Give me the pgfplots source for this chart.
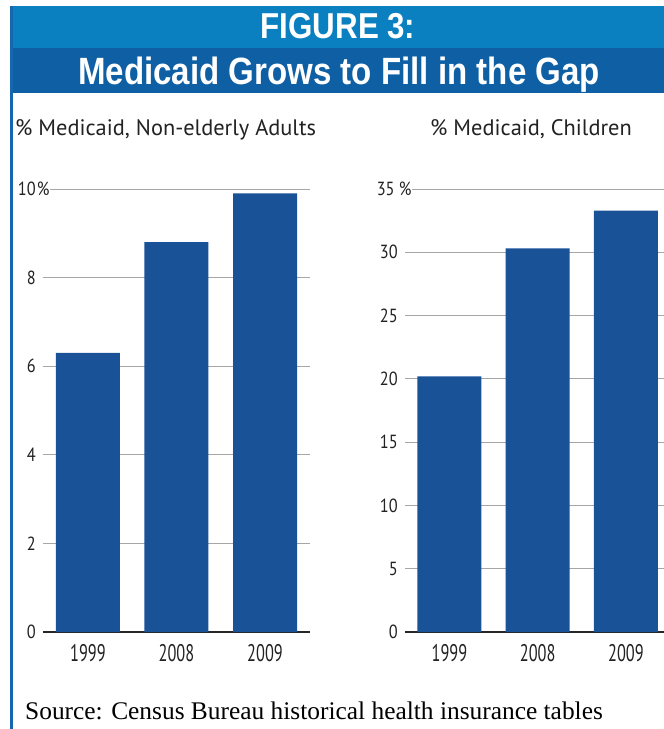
\documentclass[border=0pt]{standalone}
\usepackage{pgfplots}
\pgfplotsset{compat=1.18}
\usepackage{fontspec}
\setmainfont{PT Sans}
\newfontfamily\headfont[FakeStretch=0.87]{Liberation Sans}
\newfontfamily\condfont[FakeStretch=0.86]{PT Sans}
\newfontfamily\xcondfont[FakeStretch=0.68]{PT Sans}
\newfontfamily\srcfont{Liberation Serif}
\definecolor{barblue}{HTML}{1A5297}
\definecolor{hdrlight}{HTML}{0B80C0}
\definecolor{hdrdark}{HTML}{0E5FA3}
\definecolor{edgeblue}{HTML}{1666B0}
\definecolor{txt}{HTML}{222222}
\newcommand{\pct}{\rlap{\setlength{\fboxsep}{1pt}\colorbox{white}{\%}}}
\pgfplotsset{
  mybars/.style={
    scale only axis, anchor=south west,
    height=443pt, ymin=0,
    ybar, bar width=64pt, bar shift=0pt,
    axis line style={draw=none},
    major tick length=0pt,
    xtick={0,1,2}, xticklabels={1999,2008,2009},
    ymajorgrids, grid style={draw=black!35, line width=0.9pt},
    extra y ticks={0}, extra y tick labels={0},
    extra y tick style={grid style={draw=black!85, line width=1.4pt}},
    yticklabel style={font=\condfont\fontsize{19}{21}\selectfont, text=txt, anchor=east, inner sep=0pt, xshift=-7pt},
    xticklabel style={font=\xcondfont\fontsize{24}{26}\selectfont, text=txt, anchor=north, inner sep=0pt, yshift=-12pt},
  }
}
\begin{document}
\begin{tikzpicture}[x=1pt,y=1pt]
\useasboundingbox (0pt,0pt) rectangle (664pt,-729pt);
\clip (0pt,0pt) rectangle (664pt,-729pt);
\fill[white] (0pt,0pt) rectangle (664pt,-729pt);
\fill[hdrlight] (10pt,-6pt) rectangle (664pt,-48pt);
\fill[hdrdark] (10pt,-48pt) rectangle (664pt,-93pt);
\fill[edgeblue] (10pt,-6pt) rectangle (12.5pt,-729pt);
\node[anchor=base, text=white, inner sep=0pt, font=\headfont\bfseries\fontsize{36}{40}\selectfont] at (338pt,-38pt) {FIGURE 3:};
\node[anchor=base, text=white, inner sep=0pt, font=\headfont\bfseries\fontsize{38}{40}\selectfont] at (339pt,-84pt) {Medicaid Grows to Fill in the Gap};
\node[anchor=base west, text=txt, inner sep=0pt, font=\fontsize{22.4}{24}\selectfont] at (15pt,-135pt) {\% Medicaid, Non-elderly Adults};
\node[anchor=base west, text=txt, inner sep=0pt, font=\fontsize{22.4}{24}\selectfont] at (430pt,-135pt) {\% Medicaid, Children};
\node[anchor=base west, text=black, inner sep=0pt, font=\srcfont\fontsize{25.4}{28}\selectfont] at (25pt,-719pt) {Source: Census Bureau historical health insurance tables};

\begin{axis}[mybars, at={(43pt,-632pt)}, width=267pt,
  xmin=-0.508, xmax=2.508, ymax=10,
  ytick={2,4,6,8,10}, yticklabels={2,4,6,8,10\pct}]
\addplot[fill=barblue, draw=none] coordinates {(0,6.3) (1,8.8) (2,9.9)};
\end{axis}

\begin{axis}[mybars, at={(405pt,-632pt)}, width=266pt,
  xmin=-0.504, xmax=2.51, ymax=35,
  ytick={5,10,15,20,25,30,35}, yticklabels={5,10,15,20,25,30,35\,\pct}]
\addplot[fill=barblue, draw=none] coordinates {(0,20.2) (1,30.3) (2,33.3)};
\end{axis}
\end{tikzpicture}
\end{document}
